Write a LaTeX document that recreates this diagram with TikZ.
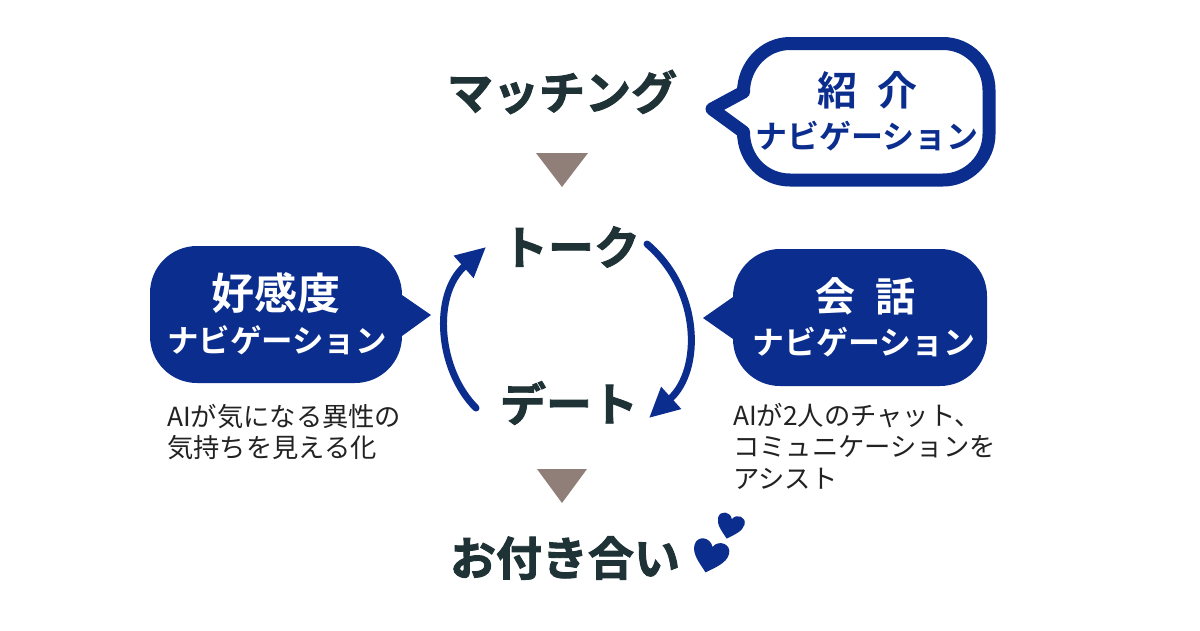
\documentclass[tikz,border=0pt]{standalone}
\usepackage{fontspec}
\usetikzlibrary{arrows.meta}
\newfontfamily\jpheavy[FakeBold=2]{Noto Sans CJK JP Bold}
\newfontfamily\jpbold{Noto Sans CJK JP Bold}
\newfontfamily\jpreg{Noto Sans CJK JP}
\definecolor{navy}{HTML}{0A2D8E}
\definecolor{ink}{HTML}{1F3236}
\definecolor{taupe}{HTML}{8F7F78}
\definecolor{body}{HTML}{222222}
\newcommand{\fs}[1]{\fontsize{#1}{#1}\selectfont}
\tikzset{
  stagelabel/.style={text=ink,font=\jpheavy\fs{46},inner sep=0pt,anchor=center},
  bubblehead/.style={font=\jpbold\fs{40},inner sep=0pt,anchor=center},
  bubblenav/.style={font=\jpbold\fs{32},inner sep=0pt,anchor=center},
  note/.style={text=body,font=\jpreg\fs{26.3},inner sep=0pt,anchor=west},
  stepmark/.style={fill=taupe},
  cyclearrow/.style={draw=navy,line width=7pt,line cap=round,-{Triangle[length=30pt,width=28pt]}},
  heartshape/.style={fill=navy}
}
\newcommand{\heartpath}{(0,1) .. controls (-0.5,.55) and (-1.05,.15) .. (-1.05,-.4) .. controls (-1.05,-1) and (-.25,-1.1) .. (0,-.55) .. controls (.25,-1.1) and (1.05,-1) .. (1.05,-.4) .. controls (1.05,.15) and (.5,.55) .. (0,1) -- cycle}
\begin{document}
\begin{tikzpicture}[x=1pt,y=-1pt]
\useasboundingbox (0,0) rectangle (1200,630);
\fill[white] (0,0) rectangle (1200,630);
% stages
\node[stagelabel] (match) at (562,92) {マッチング};
\node[stagelabel] (talk) at (571,247) {トーク};
\node[stagelabel] (date) at (569,403) {デート};
\node[stagelabel] (dating) at (565,558) {お付き合い};
% triangles
\fill[stepmark] (536,153) -- (588,153) -- (562,187) -- cycle;
\fill[stepmark] (537,469) -- (587,469) -- (562,503) -- cycle;
% top bubble
\draw[navy,line width=13pt,line join=round,fill=white]
  (743.5,92) .. controls (743.5,66) and (764,43.5) .. (790,43.5) -- (943,43.5)
  .. controls (968,43.5) and (989,64) .. (989,90) -- (989,134)
  .. controls (989,159) and (968,180) .. (943,180) -- (790,180)
  .. controls (764,180) and (743.5,159) .. (743.5,132) -- (712,109) -- cycle;
\node[bubblehead,text=navy] (introhead) at (867,90) {紹\hspace{20pt}介};
\node[bubblenav,text=navy] (intronav) at (867,136) {ナビゲーション};
% left bubble
\fill[navy]
  (402,295) .. controls (402,269) and (381,246) .. (355,246) -- (197,246)
  .. controls (171,246) and (150,267) .. (150,293) -- (150,336)
  .. controls (150,362) and (171,383) .. (197,383) -- (355,383)
  .. controls (381,383) and (402,362) .. (402,336) -- (431,315) -- cycle;
\node[bubblehead,text=white,font=\jpbold\fs{43}] (likehead) at (276,293) {好感度};
\node[bubblenav,text=white,font=\jpbold\fs{31.5}] (likenav) at (277,340) {ナビゲーション};
% right bubble
\fill[navy]
  (733,297) .. controls (733,271) and (754,249) .. (780,249) -- (940,249)
  .. controls (966,249) and (987,270) .. (987,296) -- (987,339)
  .. controls (987,365) and (966,386) .. (940,386) -- (780,386)
  .. controls (754,386) and (733,365) .. (733,339) -- (703,318) -- cycle;
\node[bubblehead,text=white] (chathead) at (865,296) {会\hspace{20pt}話};
\node[bubblenav,text=white] (chatnav) at (864,342) {ナビゲーション};
% notes
\node[note] (noteL1) at (167,417) {AIが気になる異性の};
\node[note] (noteL2) at (167,448) {気持ちを見える化};
\node[note] (noteR1) at (733,416) {AIが2人のチャット、};
\node[note] (noteR2) at (733,447) {コミュニケーションを};
\node[note] (noteR3) at (733,479) {アシスト};
% cycle arrows
\coordinate (leftstart) at (476,408);
\coordinate (leftend) at (486,247);
\coordinate (rightstart) at (647,244);
\coordinate (rightend) at (649,418);
\draw[cyclearrow] (leftstart) .. controls (438,370) and (432,295) .. (leftend);
\draw[cyclearrow] (rightstart) .. controls (701,290) and (702,370) .. (rightend);
% hearts
\fill[heartshape,shift={(710,556)},rotate=-15,scale=17] \heartpath;
\fill[heartshape,shift={(730,526)},rotate=-15,scale=13] \heartpath;
\end{tikzpicture}
\end{document}
